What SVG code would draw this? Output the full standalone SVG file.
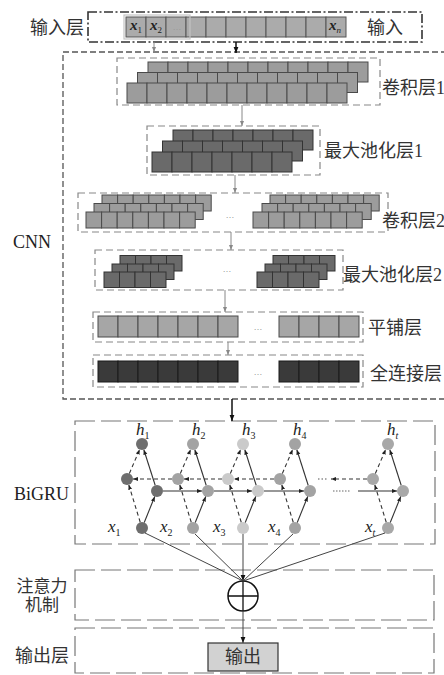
<svg xmlns="http://www.w3.org/2000/svg" width="444" height="675" viewBox="0 0 444 675">
<style>
.lab{font-family:"Liberation Serif","Noto Sans CJK SC",serif;font-size:18px;fill:#333}
.lab2{font-family:"Liberation Serif","Noto Sans CJK SC",serif;font-size:17px;fill:#333;text-anchor:middle}
.en{font-family:"Liberation Serif",serif;font-size:18px;fill:#222}
.mi{font-family:"Liberation Serif",serif;font-style:italic;font-size:17px;fill:#222}
.xb{font-family:"Liberation Serif",serif;font-style:italic;font-weight:bold;font-size:15px;fill:#222}
.dot{font-family:"Liberation Sans",sans-serif;font-size:9px;fill:#999;text-anchor:middle}
.ib{fill:none;stroke:#888;stroke-width:1.2;stroke-dasharray:7 4}
.ob{fill:none;stroke:#555;stroke-width:1.3;stroke-dasharray:6 3}
.lb{fill:none;stroke:#777;stroke-width:1.2;stroke-dasharray:20 6}
.dd{fill:none;stroke:#333;stroke-width:1.6;stroke-dasharray:9 2.5 2 2.5}
.k1{fill:#9c9c9c;stroke:#4a4a4a}
.k2{fill:#6a6a6a;stroke:#333}
.k3{fill:#a6a6a6;stroke:#4a4a4a}
.k4{fill:#3a3a3a;stroke:#1a1a1a}
.kin{fill:#ababab;stroke:#555}
.g{fill:none;stroke:#888;stroke-width:1}
.b{fill:none;stroke:#111;stroke-width:1.5}
.s{fill:none;stroke:#333;stroke-width:1.1}
.d{fill:none;stroke:#333;stroke-width:1.1;stroke-dasharray:4 3}
.ln{fill:none;stroke:#444;stroke-width:1}
.n1{fill:#6e6e6e}.n2{fill:#a3a3a3}.n3{fill:#cacaca}.n4{fill:#a3a3a3}.nt{fill:#a8a8a8}
</style>
<defs>
<marker id="ak" viewBox="0 0 10 10" refX="10" refY="5" markerWidth="6" markerHeight="6" markerUnits="userSpaceOnUse" orient="auto"><path d="M0,1 L10,5 L0,9 z" fill="#111"/></marker>
<marker id="ag" viewBox="0 0 10 10" refX="10" refY="5" markerWidth="5" markerHeight="5" markerUnits="userSpaceOnUse" orient="auto"><path d="M0,1 L10,5 L0,9 z" fill="#888"/></marker>
<marker id="as" viewBox="0 0 10 10" refX="10" refY="5" markerWidth="5" markerHeight="5" markerUnits="userSpaceOnUse" orient="auto"><path d="M0,1 L10,5 L0,9 z" fill="#222"/></marker>
<g id="r11"><rect x="0" width="20" height="20"/><rect x="20" width="20" height="20"/><rect x="40" width="20" height="20"/><rect x="60" width="20" height="20"/><rect x="80" width="20" height="20"/><rect x="100" width="20" height="20"/><rect x="120" width="20" height="20"/><rect x="140" width="20" height="20"/><rect x="160" width="20" height="20"/><rect x="180" width="20" height="20"/><rect x="200" width="20" height="20"/></g>
<g id="r7"><rect x="0" width="20" height="20"/><rect x="20" width="20" height="20"/><rect x="40" width="20" height="20"/><rect x="60" width="20" height="20"/><rect x="80" width="20" height="20"/><rect x="100" width="20" height="20"/><rect x="120" width="20" height="20"/></g>
<g id="r7s"><rect x="0" width="15.6" height="16"/><rect x="15.6" width="15.6" height="16"/><rect x="31.2" width="15.6" height="16"/><rect x="46.8" width="15.6" height="16"/><rect x="62.4" width="15.6" height="16"/><rect x="78" width="15.6" height="16"/><rect x="93.6" width="15.6" height="16"/></g>
<g id="r4s"><rect x="0" width="15.5" height="15.5"/><rect x="15.5" width="15.5" height="15.5"/><rect x="31" width="15.5" height="15.5"/><rect x="46.5" width="15.5" height="15.5"/></g>
<g id="r7t"><rect x="0" width="20" height="21"/><rect x="20" width="20" height="21"/><rect x="40" width="20" height="21"/><rect x="60" width="20" height="21"/><rect x="80" width="20" height="21"/><rect x="100" width="20" height="21"/><rect x="120" width="20" height="21"/></g>
<g id="r4t"><rect x="0" width="20" height="21"/><rect x="20" width="20" height="21"/><rect x="40" width="20" height="21"/><rect x="60" width="20" height="21"/></g>
<g id="col">
<path class="s" d="M2.25,522.44 L12.75,496.56" marker-end="url(#as)"/>
<path class="s" d="M13.18,485.28 L1.82,449.72" marker-end="url(#as)"/>
<path class="d" d="M-1.76,522.26 L-13.24,484.74" marker-end="url(#as)"/>
<path class="d" d="M-12.64,473.49 L-2.36,449.51" marker-end="url(#as)"/>
</g>
</defs>
<rect width="444" height="675" fill="#fff"/>

<g id="input-layer">
<rect class="dd" x="88" y="12" width="334" height="30"/>
<text class="lab" x="30" y="34">输入层</text>
<use href="#r11" x="126" y="17" class="kin"/>
<rect x="124" y="15" width="66" height="24" fill="none" stroke="#c4c4c4" stroke-width="1.2"/>
<text class="xb" x="130" y="30">x<tspan dy="3" font-size="9" font-weight="normal" font-style="normal">1</tspan></text>
<text class="xb" x="150" y="30">x<tspan dy="3" font-size="9" font-weight="normal" font-style="normal">2</tspan></text>
<text class="dot" x="177" y="30">…</text>
<text class="xb" x="329" y="30">x<tspan dy="3" font-size="9" font-weight="normal">n</tspan></text>
<text class="lab" x="367" y="34">输入</text>
</g>

<g id="cnn">
<rect class="ob" x="63" y="52" width="400" height="347"/>
<text class="en" x="13" y="248">CNN</text>
</g>

<g id="conv1">
<rect class="ib" x="117" y="58" width="263" height="47"/>
<use href="#r11" x="148" y="62" class="k1"/>
<use href="#r11" x="137.5" y="72.5" class="k1"/>
<use href="#r11" x="127" y="83" class="k1"/>
<text class="lab" x="382" y="94">卷积层1</text>
</g>

<g id="pool1">
<rect class="ib" x="147" y="126" width="173" height="49"/>
<use href="#r7" x="173" y="130" class="k2"/>
<use href="#r7" x="162.5" y="141" class="k2"/>
<use href="#r7" x="152" y="152" class="k2"/>
<text class="lab" x="324" y="157">最大池化层1</text>
</g>

<g id="conv2">
<rect class="ib" x="78" y="193" width="310" height="39"/>
<use href="#r7s" x="102" y="195" class="k1"/>
<use href="#r7s" x="94" y="203.5" class="k1"/>
<use href="#r7s" x="86" y="212" class="k1"/>
<use href="#r7s" x="270" y="195" class="k1"/>
<use href="#r7s" x="262" y="203.5" class="k1"/>
<use href="#r7s" x="253" y="212" class="k1"/>
<text class="dot" x="230" y="218">…</text>
<text class="lab" x="382" y="227">卷积层2</text>
</g>

<g id="pool2">
<rect class="ib" x="95" y="250" width="248" height="40"/>
<use href="#r4s" x="120" y="255.5" class="k2"/>
<use href="#r4s" x="112" y="264" class="k2"/>
<use href="#r4s" x="104" y="272" class="k2"/>
<use href="#r4s" x="273" y="255.5" class="k2"/>
<use href="#r4s" x="265" y="264" class="k2"/>
<use href="#r4s" x="257" y="272" class="k2"/>
<text class="dot" x="227" y="272">…</text>
<text class="lab" x="343" y="281">最大池化层2</text>
</g>

<g id="flatten">
<rect class="ib" x="93" y="312" width="270" height="30"/>
<use href="#r7t" x="98" y="316" class="k3"/>
<use href="#r4t" x="279" y="316" class="k3"/>
<text class="dot" x="258" y="330">…</text>
<text class="lab" x="368" y="334">平铺层</text>
</g>

<g id="fc">
<rect class="ib" x="93" y="355" width="270" height="32"/>
<use href="#r7t" x="98" y="361" class="k4"/>
<use href="#r4t" x="279" y="361" class="k4"/>
<text class="dot" x="258" y="375">…</text>
<text class="lab" x="370" y="380">全连接层</text>
</g>

<g id="bigru">
<rect class="lb" x="75" y="421" width="360" height="123"/>
<text class="en" x="14" y="500">BiGRU</text>
<text class="mi" x="136" y="435">h<tspan dy="4" font-size="10" font-style="normal">1</tspan></text>
<text class="mi" x="192" y="435">h<tspan dy="4" font-size="10" font-style="normal">2</tspan></text>
<text class="mi" x="242" y="435">h<tspan dy="4" font-size="10" font-style="normal">3</tspan></text>
<text class="mi" x="293" y="435">h<tspan dy="4" font-size="10" font-style="normal">4</tspan></text>
<text class="mi" x="387" y="435">h<tspan dy="4" font-size="10">t</tspan></text>
<text class="mi" x="108" y="532">x<tspan dy="4" font-size="10" font-style="normal">1</tspan></text>
<text class="mi" x="160" y="532">x<tspan dy="4" font-size="10" font-style="normal">2</tspan></text>
<text class="mi" x="213" y="532">x<tspan dy="4" font-size="10" font-style="normal">3</tspan></text>
<text class="mi" x="268" y="532">x<tspan dy="4" font-size="10" font-style="normal">4</tspan></text>
<text class="mi" x="365" y="532">x<tspan dy="4" font-size="10">t</tspan></text>
</g>
<g id="h1"><circle class="n1" cx="142" cy="444" r="6"/></g>
<g id="b1"><circle class="n1" cx="127" cy="479" r="6"/></g>
<g id="f1"><circle class="n1" cx="157" cy="491" r="6"/></g>
<g id="x1"><circle class="n1" cx="142" cy="528" r="6"/></g>
<g id="h2"><circle class="n2" cx="193" cy="444" r="6"/></g>
<g id="b2"><circle class="n2" cx="178" cy="479" r="6"/></g>
<g id="f2"><circle class="n2" cx="208" cy="491" r="6"/></g>
<g id="x2"><circle class="n2" cx="193" cy="528" r="6"/></g>
<g id="h3"><circle class="n3" cx="243" cy="444" r="6"/></g>
<g id="b3"><circle class="n3" cx="228" cy="479" r="6"/></g>
<g id="f3"><circle class="n3" cx="258" cy="491" r="6"/></g>
<g id="x3"><circle class="n3" cx="243" cy="528" r="6"/></g>
<g id="h4"><circle class="n4" cx="295" cy="444" r="6"/></g>
<g id="b4"><circle class="n4" cx="280" cy="479" r="6"/></g>
<g id="f4"><circle class="n4" cx="310" cy="491" r="6"/></g>
<g id="x4"><circle class="n4" cx="295" cy="528" r="6"/></g>
<g id="ht"><circle class="nt" cx="388" cy="444" r="6"/></g>
<g id="bt"><circle class="nt" cx="373" cy="479" r="6"/></g>
<g id="ft"><circle class="nt" cx="403" cy="491" r="6"/></g>
<g id="xt"><circle class="nt" cx="388" cy="528" r="6"/></g>

<g id="attention">
<rect class="lb" x="75" y="570" width="359" height="50"/>
<text class="lab2" x="42" y="592">注意力</text>
<text class="lab2" x="42" y="611">机制</text>
<circle cx="243" cy="596" r="15" fill="#fff" stroke="#111" stroke-width="1.5"/>
<path d="M228,596 H258 M243,581 V611" stroke="#111" stroke-width="1.3" fill="none"/>
</g>

<g id="output">
<rect class="lb" x="75" y="628" width="359" height="45"/>
<text class="lab" x="15" y="662">输出层</text>
<rect x="208" y="643" width="70" height="28" fill="#d2d2d2" stroke="#333" stroke-width="1.2"/>
<text class="lab" x="243" y="663" text-anchor="middle">输出</text>
</g>

<g id="connectors">
<path class="g" d="M154,42 V52" marker-end="url(#ag)"/>
<path class="b" d="M236,42 V53" marker-end="url(#ak)"/>
<path class="g" d="M242,105 V126" marker-end="url(#ag)"/>
<path class="g" d="M235,175 V193" marker-end="url(#ag)"/>
<path class="g" d="M231,232 V250" marker-end="url(#ag)"/>
<path class="g" d="M225,290 V312" marker-end="url(#ag)"/>
<path class="g" d="M228,342 V355" marker-end="url(#ag)"/>
<path class="b" d="M232,399 V421" marker-end="url(#ak)"/>
<use href="#col" x="142"/>
<use href="#col" x="193"/>
<use href="#col" x="243"/>
<use href="#col" x="295"/>
<use href="#col" x="388"/>
<path class="s" d="M163,491 H202" marker-end="url(#as)"/>
<path class="s" d="M214,491 H252" marker-end="url(#as)"/>
<path class="s" d="M264,491 H304" marker-end="url(#as)"/>
<path class="s" d="M358,491 H397" marker-end="url(#as)"/>
<path d="M333,491 H351" stroke="#666" stroke-width="1" stroke-dasharray="1.5 1.5" fill="none"/>
<path class="d" d="M172,479 H133" marker-end="url(#as)"/>
<path class="d" d="M222,479 H184" marker-end="url(#as)"/>
<path class="d" d="M274,479 H234" marker-end="url(#as)"/>
<path class="d" d="M367,479 H331" marker-end="url(#as)"/>
<path d="M318,479 H328" stroke="#555" stroke-width="1.2" stroke-dasharray="1.5 2" fill="none"/>
<path class="ln" d="M145,533 L243,581"/>
<path class="ln" d="M195,534 L243,581"/>
<path class="ln" d="M293,534 L243,581"/>
<path class="ln" d="M385,533 L243,581"/>
<path class="ln" d="M243,534 V581" marker-end="url(#ak)"/>
<path class="ln" d="M243,611 V643" marker-end="url(#ak)"/>
</g>
</svg>
